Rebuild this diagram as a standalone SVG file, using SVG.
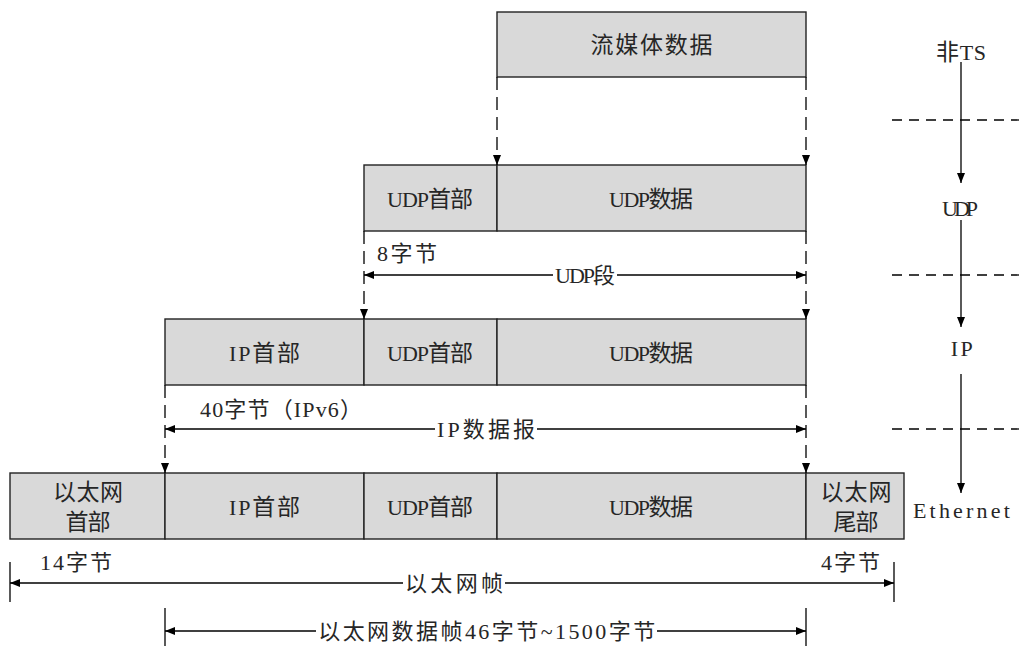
<svg xmlns="http://www.w3.org/2000/svg" width="1019" height="646" viewBox="0 0 1019 646">
<style>
.cell{fill:#d9d9d9;stroke:#222;stroke-width:1.4}
.t{font-family:"Liberation Serif","Noto Sans CJK SC",serif;font-size:23px;fill:#262626;text-anchor:middle}
.s{font-family:"Liberation Serif","Noto Sans CJK SC",serif;font-size:22px;fill:#262626}
.l{font-size:22px}
.dash{stroke:#000;stroke-width:1.3;fill:none;stroke-dasharray:13 7}
.hd{stroke:#000;stroke-width:1.3;fill:none;stroke-dasharray:10 7}
.ln{stroke:#000;stroke-width:1.3;fill:none}
</style>
<defs>
<marker id="ah" markerUnits="userSpaceOnUse" markerWidth="10" markerHeight="10" viewBox="0 0 10 10" refX="10" refY="5" orient="auto">
<path d="M0,1 L10,5 L0,9 Z" fill="#000"/>
</marker>
<marker id="ahs" markerUnits="userSpaceOnUse" markerWidth="10" markerHeight="10" viewBox="0 0 10 10" refX="0" refY="5" orient="auto">
<path d="M10,1 L0,5 L10,9 Z" fill="#000"/>
</marker>
</defs>

<g id="stream">
<rect class="cell" x="497" y="12" width="309" height="65"/>
<text class="t" x="651.5" y="53" textLength="122" lengthAdjust="spacing">流媒体数据</text>
</g>

<g id="udp-row">
<g id="udp1-header"><rect class="cell" x="364" y="165" width="133" height="66"/>
<text class="t" x="430" y="206.5" textLength="86" lengthAdjust="spacing"><tspan class="l">UDP</tspan>首部</text></g>
<g id="udp1-data"><rect class="cell" x="497" y="165" width="309" height="66"/>
<text class="t" x="651" y="206.5" textLength="84" lengthAdjust="spacing"><tspan class="l">UDP</tspan>数据</text></g>
</g>

<g id="ip-row">
<g id="ip2-header"><rect class="cell" x="165" y="319" width="199" height="66"/>
<text class="t" x="264.5" y="360.5" textLength="71" lengthAdjust="spacing"><tspan class="l">IP</tspan>首部</text></g>
<g id="udp2-header"><rect class="cell" x="364" y="319" width="133" height="66"/>
<text class="t" x="430" y="360.5" textLength="86" lengthAdjust="spacing"><tspan class="l">UDP</tspan>首部</text></g>
<g id="udp2-data"><rect class="cell" x="497" y="319" width="309" height="66"/>
<text class="t" x="651" y="360.5" textLength="84" lengthAdjust="spacing"><tspan class="l">UDP</tspan>数据</text></g>
</g>

<g id="eth-row">
<g id="eth-header"><rect class="cell" x="10" y="473" width="155" height="66"/>
<text class="t" x="88" y="500" textLength="70" lengthAdjust="spacing">以太网</text>
<text class="t" x="88" y="530" textLength="45" lengthAdjust="spacing">首部</text></g>
<g id="ip3-header"><rect class="cell" x="165" y="473" width="199" height="66"/>
<text class="t" x="264.5" y="514.5" textLength="71" lengthAdjust="spacing"><tspan class="l">IP</tspan>首部</text></g>
<g id="udp3-header"><rect class="cell" x="364" y="473" width="133" height="66"/>
<text class="t" x="430" y="514.5" textLength="86" lengthAdjust="spacing"><tspan class="l">UDP</tspan>首部</text></g>
<g id="udp3-data"><rect class="cell" x="497" y="473" width="309" height="66"/>
<text class="t" x="651" y="514.5" textLength="84" lengthAdjust="spacing"><tspan class="l">UDP</tspan>数据</text></g>
<g id="eth-trailer"><rect class="cell" x="806" y="473" width="98" height="66"/>
<text class="t" x="856" y="500" textLength="71" lengthAdjust="spacing">以太网</text>
<text class="t" x="856" y="530" textLength="45" lengthAdjust="spacing">尾部</text></g>
</g>

<g id="layers">
<text class="t" x="961" y="60" textLength="50" lengthAdjust="spacing">非<tspan class="l">TS</tspan></text>
<text class="t" x="960" y="215.5" textLength="36" lengthAdjust="spacing"><tspan class="l">UDP</tspan></text>
<text class="t" x="961.7" y="355.5" textLength="22" lengthAdjust="spacing"><tspan class="l">IP</tspan></text>
<text class="t" x="961.4" y="517.5" textLength="97" lengthAdjust="spacing"><tspan class="l">Ethernet</tspan></text>
</g>

<g id="labels">
<text class="s" x="377" y="260.5" textLength="60" lengthAdjust="spacing">8字节</text>
<text class="s" x="585" y="283" text-anchor="middle" textLength="60" lengthAdjust="spacing">UDP段</text>
<text class="s" x="200" y="416.5" textLength="162" lengthAdjust="spacing">40字节（IPv6）</text>
<text class="s" x="486" y="437" text-anchor="middle" textLength="98" lengthAdjust="spacing">IP数据报</text>
<text class="s" x="40" y="570" textLength="72" lengthAdjust="spacing">14字节</text>
<text class="s" x="454" y="591" text-anchor="middle" textLength="98" lengthAdjust="spacing">以太网帧</text>
<text class="s" x="821" y="570" textLength="59" lengthAdjust="spacing">4字节</text>
<text class="s" x="486.7" y="639" text-anchor="middle" textLength="337" lengthAdjust="spacing">以太网数据帧46字节~1500字节</text>
</g>

<g id="connectors">
<line class="dash" x1="497" y1="77" x2="497" y2="165" marker-end="url(#ah)"/>
<line class="dash" x1="806" y1="77" x2="806" y2="165" marker-end="url(#ah)"/>
<line class="dash" x1="364" y1="231" x2="364" y2="319" marker-end="url(#ah)"/>
<line class="dash" x1="806" y1="231" x2="806" y2="319" marker-end="url(#ah)"/>
<line class="dash" x1="165" y1="385" x2="165" y2="473" marker-end="url(#ah)"/>
<line class="dash" x1="806" y1="385" x2="806" y2="473" marker-end="url(#ah)"/>
<line class="ln" x1="364" y1="275" x2="553" y2="275" marker-start="url(#ahs)"/>
<line class="ln" x1="617" y1="275" x2="806" y2="275" marker-end="url(#ah)"/>
<line class="ln" x1="165" y1="429" x2="435" y2="429" marker-start="url(#ahs)"/>
<line class="ln" x1="537" y1="429" x2="806" y2="429" marker-end="url(#ah)"/>
<line class="ln" x1="10" y1="583" x2="403" y2="583" marker-start="url(#ahs)"/>
<line class="ln" x1="505" y1="583" x2="894" y2="583" marker-end="url(#ah)"/>
<line class="ln" x1="10" y1="562" x2="10" y2="602"/>
<line class="ln" x1="894" y1="562" x2="894" y2="602"/>
<line class="ln" x1="165" y1="631" x2="316" y2="631" marker-start="url(#ahs)"/>
<line class="ln" x1="657" y1="631" x2="806" y2="631" marker-end="url(#ah)"/>
<line class="ln" x1="165" y1="608" x2="165" y2="646"/>
<line class="ln" x1="806" y1="608" x2="806" y2="646"/>
<line class="ln" x1="961" y1="62" x2="961" y2="183" marker-end="url(#ah)"/>
<line class="ln" x1="961" y1="220" x2="961" y2="327" marker-end="url(#ah)"/>
<line class="ln" x1="961" y1="374" x2="961" y2="493" marker-end="url(#ah)"/>
<line class="hd" x1="892" y1="120" x2="1019" y2="120"/>
<line class="hd" x1="892" y1="275" x2="1019" y2="275"/>
<line class="hd" x1="892" y1="429" x2="1019" y2="429"/>
</g>
</svg>
